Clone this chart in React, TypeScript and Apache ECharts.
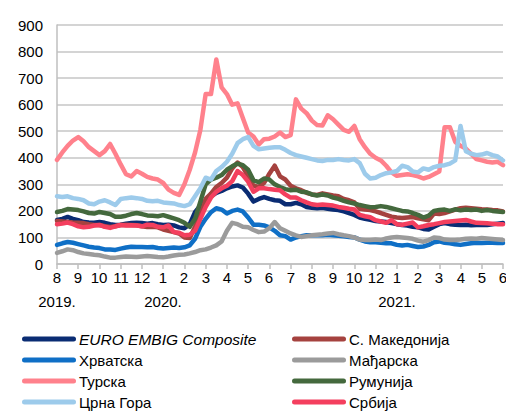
import React, { useEffect, useRef } from "react";
import * as echarts from "echarts";

const monthLabels = ["8", "9", "10", "11", "12", "1", "2", "3", "4", "5", "6", "7", "8", "9", "10", "12", "1", "2", "3", "4", "5", "6"];
const yearLabels: Record<number, string> = { 0: "2019.", 5: "2020.", 16: "2021." };

const POINTS_PER_LABEL = 4;

const euroEmbig = [166, 170, 177, 170, 165, 158, 156, 155, 158, 155, 150, 147, 148, 152, 154, 155, 154, 152, 154, 150, 147, 148, 145, 138, 135, 150, 195, 220, 235, 255, 268, 275, 285, 292, 296, 288, 265, 235, 245, 252, 245, 240, 238, 225, 225, 230, 225, 215, 212, 210, 212, 208, 205, 203, 198, 192, 185, 175, 170, 166, 162, 160, 158, 154, 150, 147, 145, 140, 138, 132, 130, 140, 150, 154, 150, 148, 147, 148, 146, 147, 148, 147, 150, 152, 154];
const makedonija = [162, 160, 158, 156, 155, 154, 150, 147, 147, 142, 139, 142, 147, 148, 147, 146, 142, 139, 140, 138, 130, 125, 120, 115, 100, 98, 140, 185, 245, 265, 290, 305, 325, 360, 382, 365, 330, 295, 290, 305, 340, 370, 330, 318, 295, 285, 278, 268, 262, 260, 266, 262, 258, 255, 245, 240, 232, 208, 205, 203, 198, 192, 185, 178, 175, 173, 175, 177, 172, 168, 165, 190, 188, 192, 198, 205, 210, 212, 210, 208, 206, 205, 203, 202, 198];
const hrvatska = [72, 78, 83, 80, 75, 70, 65, 62, 60, 55, 55, 53, 58, 62, 65, 64, 64, 63, 64, 60, 58, 60, 62, 60, 63, 70, 95, 140, 170, 195, 210, 205, 190, 200, 205, 198, 175, 148, 148, 145, 138, 125, 108, 105, 92, 100, 105, 108, 108, 108, 108, 110, 108, 106, 104, 102, 100, 92, 85, 82, 82, 80, 78, 78, 72, 70, 72, 68, 64, 66, 72, 82, 85, 80, 78, 74, 72, 75, 78, 80, 79, 80, 80, 79, 79];
const madjarska = [42, 48, 55, 52, 45, 40, 38, 35, 33, 28, 24, 24, 26, 28, 27, 26, 28, 30, 28, 26, 25, 28, 32, 35, 36, 40, 45, 52, 55, 62, 70, 85, 125, 155, 150, 140, 138, 128, 120, 122, 135, 158, 135, 125, 115, 108, 102, 105, 108, 110, 112, 115, 117, 112, 108, 105, 100, 92, 90, 90, 92, 90, 96, 100, 102, 100, 98, 95, 88, 84, 90, 100, 98, 92, 90, 90, 92, 95, 96, 95, 98, 96, 94, 92, 90];
const turska = [392, 420, 445, 465, 478, 462, 440, 425, 410, 425, 452, 415, 375, 338, 330, 350, 340, 328, 322, 318, 305, 280, 268, 260, 300, 355, 420, 505, 640, 640, 770, 665, 640, 600, 605, 550, 495, 480, 450, 470, 472, 480, 495, 478, 485, 620, 585, 568, 540, 523, 522, 560, 545, 525, 505, 498, 520, 470, 440, 415, 400, 390, 370, 345, 332, 335, 338, 335, 330, 322, 328, 338, 348, 515, 515, 460, 445, 435, 415, 395, 390, 385, 382, 385, 372];
const rumunija = [196, 200, 207, 205, 203, 198, 192, 190, 196, 192, 188, 178, 178, 182, 188, 192, 188, 183, 182, 180, 184, 178, 172, 165, 155, 140, 170, 235, 300, 318, 325, 335, 355, 368, 378, 372, 355, 315, 308, 322, 318, 300, 290, 282, 278, 280, 272, 270, 262, 258, 262, 258, 250, 245, 238, 232, 228, 222, 218, 214, 215, 218, 215, 210, 205, 200, 198, 192, 185, 175, 182, 200, 203, 205, 200, 206, 202, 205, 203, 205, 200, 203, 200, 198, 196];
const crnaGora = [255, 252, 255, 248, 245, 240, 228, 225, 235, 240, 232, 222, 245, 248, 250, 248, 245, 238, 236, 238, 232, 230, 228, 222, 218, 225, 255, 285, 325, 318, 350, 365, 385, 415, 455, 470, 478, 445, 432, 435, 438, 440, 440, 430, 418, 410, 405, 400, 395, 390, 388, 392, 392, 395, 392, 390, 395, 380, 340, 322, 325, 335, 342, 345, 350, 370, 365, 348, 345, 360, 355, 365, 370, 372, 378, 390, 520, 425, 415, 410, 412, 418, 410, 405, 390];
const srbija = [150, 152, 156, 150, 142, 138, 140, 145, 147, 140, 136, 142, 147, 145, 146, 145, 142, 148, 147, 140, 138, 145, 120, 118, 108, 110, 125, 170, 215, 250, 272, 285, 295, 312, 350, 335, 310, 272, 285, 285, 282, 280, 278, 262, 250, 250, 240, 232, 225, 222, 224, 222, 220, 215, 212, 208, 205, 185, 180, 176, 165, 160, 155, 165, 150, 148, 152, 156, 138, 142, 147, 150, 154, 158, 160, 162, 164, 166, 160, 155, 154, 153, 152, 150, 150];

const seriesDefs = [
  { name: "EURO EMBIG Composite", data: euroEmbig, color: "#0a2c73" },
  { name: "С. Македонија", data: makedonija, color: "#a5423f" },
  { name: "Хрватска", data: hrvatska, color: "#0f6fc6" },
  { name: "Мађарска", data: madjarska, color: "#9b9b9b" },
  { name: "Турска", data: turska, color: "#ff818c" },
  { name: "Румунија", data: rumunija, color: "#44693d" },
  { name: "Црна Гора", data: crnaGora, color: "#9dcbeb" },
  { name: "Србија", data: srbija, color: "#f43f5e" },
];

const categories = euroEmbig.map((_, i) => `p${i}`);

const FONT = "'Liberation Sans', Arial, sans-serif";

export default function App() {
  const ref = useRef<HTMLDivElement>(null);
  useEffect(() => {
    if (!ref.current) return;
    const chart = echarts.init(ref.current, undefined, { renderer: "svg" });
    const legendCommon = {
      orient: "vertical" as const,
      top: 330,
      height: 110,
      itemWidth: 54,
      itemHeight: 5,
      itemGap: 3,
      icon: "path://M2.5,0 L51.5,0 A2.5,2.5 0 0 1 51.5,5 L2.5,5 A2.5,2.5 0 0 1 2.5,0 Z",
      textStyle: {
        fontFamily: FONT,
        fontSize: 15,
        color: "#000",
        lineHeight: 18,
        padding: [0, 0, 0, -2],
        rich: { i: { fontStyle: "italic", fontFamily: FONT, fontSize: 15.5, color: "#000", lineHeight: 18 } },
      },
      formatter: (name: string) => (name === "EURO EMBIG Composite" ? `{i|${name}}` : name),
      selectedMode: false,
      padding: 0,
    };
    const isLabelIdx = (i: number) => i % POINTS_PER_LABEL === 0;
    chart.setOption({
      animation: false,
      backgroundColor: "#fff",
      grid: { left: 57, right: 3, top: 25, bottom: 149, containLabel: false },
      xAxis: {
        type: "category",
        data: categories,
        boundaryGap: false,
        axisLine: { show: true, lineStyle: { color: "#bfbfbf", width: 1.5 } },
        axisTick: { show: true, length: 5, interval: isLabelIdx, lineStyle: { color: "#bfbfbf", width: 1.5 } },
        splitLine: { show: false },
        axisLabel: { show: false },
      },
      yAxis: {
        type: "value",
        min: 0,
        max: 900,
        interval: 100,
        axisLine: { show: true, lineStyle: { color: "#bfbfbf", width: 1.5 } },
        axisTick: { show: false },
        splitLine: { show: true, lineStyle: { color: "#c6c6c6", width: 1.5 } },
        axisLabel: { fontFamily: FONT, fontSize: 15, color: "#000", margin: 14 },
      },
      legend: [
        { ...legendCommon, left: 22, data: ["EURO EMBIG Composite", "Хрватска", "Турска", "Црна Гора"] },
        { ...legendCommon, left: 292, data: ["С. Македонија", "Мађарска", "Румунија", "Србија"] },
      ],
      series: seriesDefs.map((s) => ({
        name: s.name,
        type: "line",
        symbol: "none",
        smooth: false,
        color: s.color,
        itemStyle: { color: s.color },
        lineStyle: { color: s.color, width: 4.5, join: "round", cap: "round" },
        data: s.data,
      })),
    });

    // month / year tick labels placed through the x axis scale
    const zeroY = Math.round(chart.convertToPixel({ yAxisIndex: 0 }, 0) as number);
    const monthEls: any[] = [];
    const yearEls: any[] = [];
    monthLabels.forEach((m, k) => {
      const x = Math.round(chart.convertToPixel({ xAxisIndex: 0 }, categories[k * POINTS_PER_LABEL]) as number);
      monthEls.push({
        type: "text",
        id: `month-${k}`,
        x,
        y: zeroY + 6,
        silent: true,
        style: { text: m, fill: "#000", fontFamily: FONT, fontSize: 15, align: "center", verticalAlign: "top" },
      });
      const yr = yearLabels[k];
      if (yr) {
        yearEls.push({
          type: "text",
          id: `year-${k}`,
          x,
          y: zeroY + 30,
          silent: true,
          style: { text: yr, fill: "#000", fontFamily: FONT, fontSize: 15, align: "center", verticalAlign: "top" },
        });
      }
    });
    chart.setOption({
      graphic: [
        { type: "group", id: "months", children: monthEls },
        { type: "group", id: "years", children: yearEls },
      ],
    });
    return () => chart.dispose();
  }, []);
  return <div ref={ref} style={{ position: "absolute", left: 0, top: 0, width: 506, height: 413 }} />;
}
